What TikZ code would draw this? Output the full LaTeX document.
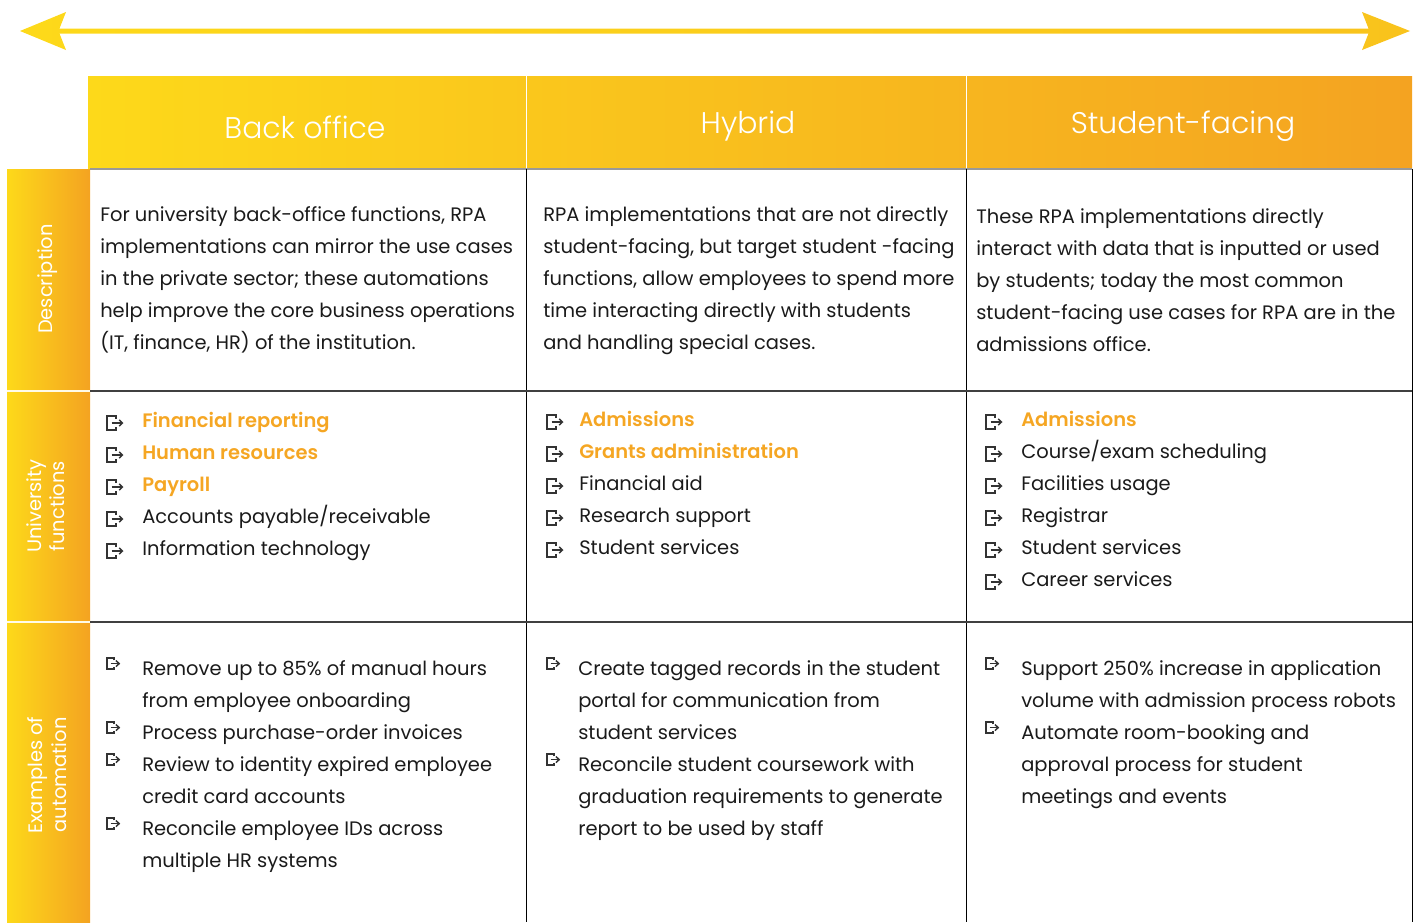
\documentclass[tikz,border=0pt]{standalone}
\usepackage{fontspec}
\setmainfont{Poppins}[BoldFont={Poppins SemiBold}]
\newfontfamily\lightfont{Poppins Light}
\usetikzlibrary{arrows.meta}
\definecolor{ylw}{HTML}{FDD91A}
\definecolor{org}{HTML}{F4A321}
\definecolor{arrr}{HTML}{F9C31C}
\definecolor{orgtext}{HTML}{F5A623}
\definecolor{txt}{HTML}{1A1A1A}
\definecolor{icn}{HTML}{333333}
\definecolor{rowline}{HTML}{404040}
\newcommand\bodyfont{\fontsize{14.6}{17}\selectfont}
\newcommand\sidefont{\fontsize{14.6}{17.5}\selectfont}
\newcommand\hdrfont{\lightfont\fontsize{22.4}{26}\selectfont}
\tikzset{
  body/.style={anchor=base west, inner sep=0pt, text=txt, font=\bodyfont},
  hl/.style={body, text=orgtext, font=\bodyfont\bfseries},
  hdr/.style={anchor=base, inner sep=0pt, text=white, font=\hdrfont},
  side/.style={rotate=90, inner sep=0pt, text=white, font=\sidefont, align=center},
  grid/.style={draw=black, line width=0.75pt},
  rowsep/.style={draw=rowline, line width=1.1pt},
  exiticon/.pic={
    \draw[icn, line width=1.2pt] (9,3) -- (9,0) -- (0,0) -- (0,14) -- (9,14) -- (9,11);
    \draw[icn, line width=1.1pt, -{Straight Barb[length=2.4pt,width=4.6pt]}] (4.5,7) -- (16.5,7);
  }
}
\begin{document}
\begin{tikzpicture}[x=0.75pt, y=-0.75pt]
\useasboundingbox (0,0) rectangle (1418,922);
% top double arrow
\shade[left color=ylw, right color=arrr]
  (20,31) -- (66,12) -- (59.5,28.5) -- (1368.5,28.5) -- (1362,12) -- (1410,31)
  -- (1362,50) -- (1368.5,33.5) -- (59.5,33.5) -- (66,50) -- cycle;
% header band
\shade[left color=ylw, right color=org] (88,76) rectangle (1412,169);
\draw[white, line width=0.75pt] (526,76) -- (526,169) (966,76) -- (966,169);
% side band
\shade[left color=ylw, right color=org] (7,169) rectangle (90,391);
\shade[left color=ylw, right color=org] (7,391) rectangle (90,622);
\shade[left color=ylw, right color=org] (7,622) rectangle (90,922);
\draw[white!90!ylw, line width=1.2pt] (7,391) -- (90,391) (7,622) -- (90,622);
% grid
\draw[draw=black!40, line width=0.9pt] (90,169) -- (1412,169);
\draw[grid] (526,169) -- (526,922) (966,169) -- (966,922) (1412,169) -- (1412,922);
\draw[rowsep] (90,391) -- (1412,391) (90,622) -- (1412,622);
% headers
\node[hdr] (h1) at (305,138) {Back office};
\node[hdr] (h2) at (748,133) {Hybrid};
\node[hdr] (h3) at (1183,133) {Student-facing};
% side labels
\node[side] (s1) at (48,279) {Description};
\node[side] (s2) at (46,506) {University\\functions};
\node[side] (s3) at (47,775) {Examples of\\automation};
% row 1
\foreach \t [count=\i from 0] in {{For university back-office functions, RPA},{implementations can mirror the use cases},{in the private sector; these automations},{help improve the core business operations},{(IT, finance, HR) of the institution.}}
  \node[body, name=da\i] at (100,221+32*\i) {\t};
\foreach \t [count=\i from 0] in {{RPA implementations that are not directly},{student-facing, but target student -facing},{functions, allow employees to spend more},{time interacting directly with students},{and handling special cases.}}
  \node[body, name=db\i] at (543,221+32*\i) {\t};
\foreach \t [count=\i from 0] in {{These RPA implementations directly},{interact with data that is inputted or used},{by students; today the most common},{student-facing use cases for RPA are in the},{admissions office.}}
  \node[body, name=dc\i] at (976,223+32*\i) {\t};
% row 2 icons
\foreach \k in {0,...,4} \pic at (107,416+32*\k) {exiticon};
\foreach \k in {0,...,4} \pic at (547,415+32*\k) {exiticon};
\foreach \k in {0,...,5} \pic at (986,415+32*\k) {exiticon};
% row 2 text
\node[hl] (ua0) at (142,427) {Financial reporting};
\node[hl] (ua1) at (142,459) {Human resources};
\node[hl] (ua2) at (142,491) {Payroll};
\node[body] (ua3) at (142,523) {Accounts payable/receivable};
\node[body] (ua4) at (142,555) {Information technology};
\node[hl] (ub0) at (579,426) {Admissions};
\node[hl] (ub1) at (579,458) {Grants administration};
\node[body] (ub2) at (579,490) {Financial aid};
\node[body] (ub3) at (579,522) {Research support};
\node[body] (ub4) at (579,554) {Student services};
\node[hl] (uc0) at (1021,426) {Admissions};
\node[body] (uc1) at (1021,458) {Course/exam scheduling};
\node[body] (uc2) at (1021,490) {Facilities usage};
\node[body] (uc3) at (1021,522) {Registrar};
\node[body] (uc4) at (1021,554) {Student services};
\node[body] (uc5) at (1021,586) {Career services};
% row 3 icons
\foreach \k in {0,2,3,5} \pic[scale=0.8] at (107,658+32*\k) {exiticon};
\foreach \k in {0,3} \pic[scale=0.8] at (547,658+32*\k) {exiticon};
\foreach \k in {0,2} \pic[scale=0.8] at (986,658+32*\k) {exiticon};
% row 3 text
\foreach \t [count=\i from 0] in {{Remove up to 85\% of manual hours},{from employee onboarding},{Process purchase-order invoices},{Review to identity expired employee},{credit card accounts},{Reconcile employee IDs across},{multiple HR systems}}
  \node[body, name=ea\i] at (142,675+32*\i) {\t};
\foreach \t [count=\i from 0] in {{Create tagged records in the student},{portal for communication from},{student services},{Reconcile student coursework with},{graduation requirements to generate},{report to be used by staff}}
  \node[body, name=eb\i] at (578,675+32*\i) {\t};
\foreach \t [count=\i from 0] in {{Support 250\% increase in application},{volume with admission process robots},{Automate room-booking and},{approval process for student},{meetings and events}}
  \node[body, name=ec\i] at (1021,675+32*\i) {\t};
\end{tikzpicture}
\end{document}
